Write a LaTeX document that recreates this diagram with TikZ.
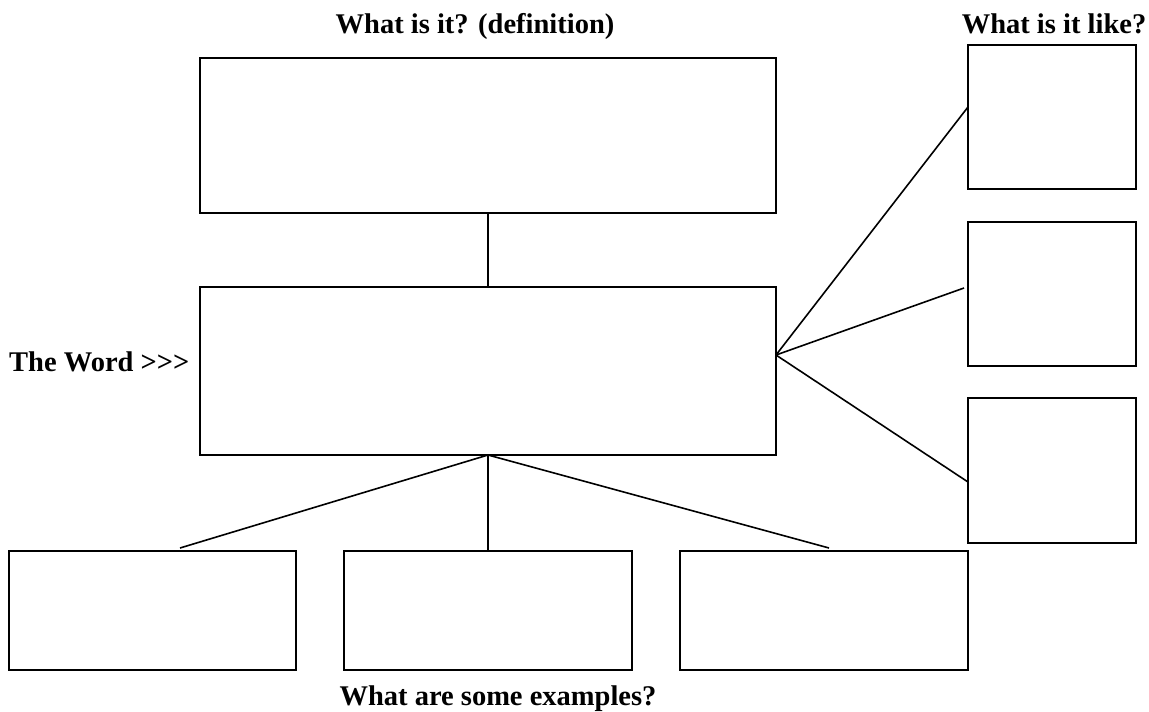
\documentclass[tikz,border=0pt]{standalone}
\usepackage{fontspec}
\setmainfont{Liberation Serif}

\begin{document}
\begin{tikzpicture}[x=1pt, y=-1pt,
  box/.style={draw, line width=2pt, inner sep=0pt, outer sep=0pt},
  link/.style={line width=1.6pt},
  heading/.style={font=\fontsize{28.5}{32}\selectfont\bfseries, inner sep=0pt}]
  \useasboundingbox (0,0) rectangle (1149,712);

  % Headings
  \node[heading, anchor=base] (defhead) at (475, 33) {What is it? (definition)};
  \node[heading, anchor=base] (likehead) at (1054, 33) {What is it like?};
  \node[heading, anchor=base west] (wordhead) at (9, 371) {The Word >{}>{}>};
  \node[heading, anchor=base] (exhead) at (498, 705) {What are some examples?};

  % Definition and word
  \node[box, minimum width=576pt, minimum height=155pt] (def) at (488, 135.5) {};
  \node[box, minimum width=576pt, minimum height=168pt] (word) at (488, 371) {};

  % What is it like (right column)
  \node[box, minimum width=168pt, minimum height=144pt] (like1) at (1052, 117) {};
  \node[box, minimum width=168pt, minimum height=144pt] (like2) at (1052, 294) {};
  \node[box, minimum width=168pt, minimum height=145pt] (like3) at (1052, 470.5) {};

  % Examples (bottom row)
  \node[box, minimum width=287pt, minimum height=119pt] (ex1) at (152.5, 610.5) {};
  \node[box, minimum width=288pt, minimum height=119pt] (ex2) at (488, 610.5) {};
  \node[box, minimum width=288pt, minimum height=119pt] (ex3) at (824, 610.5) {};

  % Connectors
  \draw[link] (def.south) -- (word.north);
  \draw[link] ([yshift=16pt]word.east) -- ([yshift=10pt]like1.west);
  \draw[link] ([yshift=16pt]word.east) -- ([xshift=-4pt, yshift=6pt]like2.west);
  \draw[link] ([yshift=16pt]word.east) -- ([yshift=-11.5pt]like3.west);
  \draw[link] (word.south) -- ([xshift=27.5pt, yshift=3pt]ex1.north);
  \draw[link] (word.south) -- (ex2.north);
  \draw[link] (word.south) -- ([xshift=5pt, yshift=3pt]ex3.north);
\end{tikzpicture}
\end{document}
